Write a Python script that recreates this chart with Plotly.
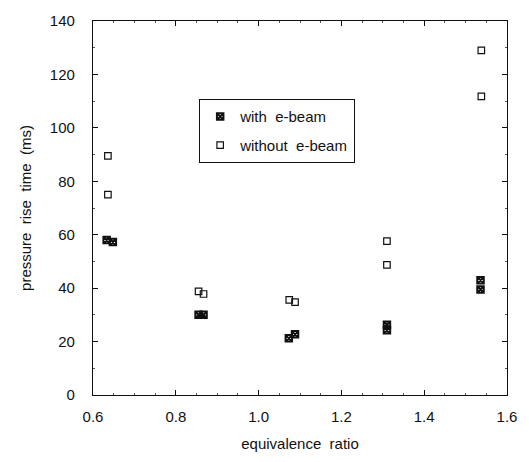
import plotly.graph_objects as go

# equivalence ratio / pressure rise time (ms)
with_x = [0.633, 0.648, 0.855, 0.867, 1.073, 1.088, 1.31, 1.31, 1.536, 1.536]
with_y = [58, 57.3, 30, 30, 21.2, 22.7, 26.3, 24.2, 43, 39.5]
without_x = [0.636, 0.636, 0.855, 0.867, 1.074, 1.088, 1.31, 1.31, 1.538, 1.538]
without_y = [89.5, 75, 38.8, 37.8, 35.6, 34.8, 57.6, 48.7, 129, 111.8]

x_ticks = [0.6, 0.8, 1.0, 1.2, 1.4, 1.6]
x_tick_labels = ["0.6", "0.8", "1.0", "1.2", "1.4", "1.6"]
y_ticks = [0, 20, 40, 60, 80, 100, 120, 140]

font = "Liberation Sans, Arial, sans-serif"

fig = go.Figure()
fig.add_trace(go.Scatter(
    x=with_x, y=with_y, mode="markers", name="with  e-beam", legendgroup="a",
    marker=dict(symbol="square-x-open", size=6.5, color="#111111",
                line=dict(width=2, color="#111111")),
))
fig.add_trace(go.Scatter(
    x=without_x, y=without_y, mode="markers", name="without  e-beam",
    legendgroup="b",
    marker=dict(symbol="square-open", size=6.5, color="#111111",
                line=dict(width=1.2, color="#111111")),
))

axis_common = dict(
    showgrid=False, zeroline=False, showline=True, linecolor="#111111",
    linewidth=1.2, mirror="ticks", ticks="inside", ticklen=5,
    tickcolor="#111111", tickwidth=1,
    tickfont=dict(family=font, size=15, color="#111111"),
    minor=dict(ticks="inside", ticklen=2, tickcolor="#555555"),
)

fig.update_layout(
    width=529, height=462,
    margin=dict(l=93, r=18, t=18, b=66),
    paper_bgcolor="white", plot_bgcolor="white",
    font=dict(family=font, size=15, color="#111111"),
    xaxis=dict(range=[0.6, 1.6], tickvals=x_ticks, ticktext=x_tick_labels,
               title=dict(text="equivalence  ratio", standoff=14,
                          font=dict(family=font, size=15)),
               ticklabelstandoff=8, **axis_common),
    yaxis=dict(range=[0, 140], tickvals=y_ticks,
               title=dict(text="pressure  rise  time  (ms)", standoff=14,
                          font=dict(family=font, size=15)),
               ticklabelstandoff=14, **axis_common),
    legend=dict(x=(200 - 93) / 418, y=(396 - 97) / 378, xanchor="left",
                yanchor="top", bgcolor="white", bordercolor="#111111",
                borderwidth=1.2, font=dict(family=font, size=15),
                traceorder="grouped", tracegroupgap=6),
    showlegend=True,
)

fig.write_html("out.html")
